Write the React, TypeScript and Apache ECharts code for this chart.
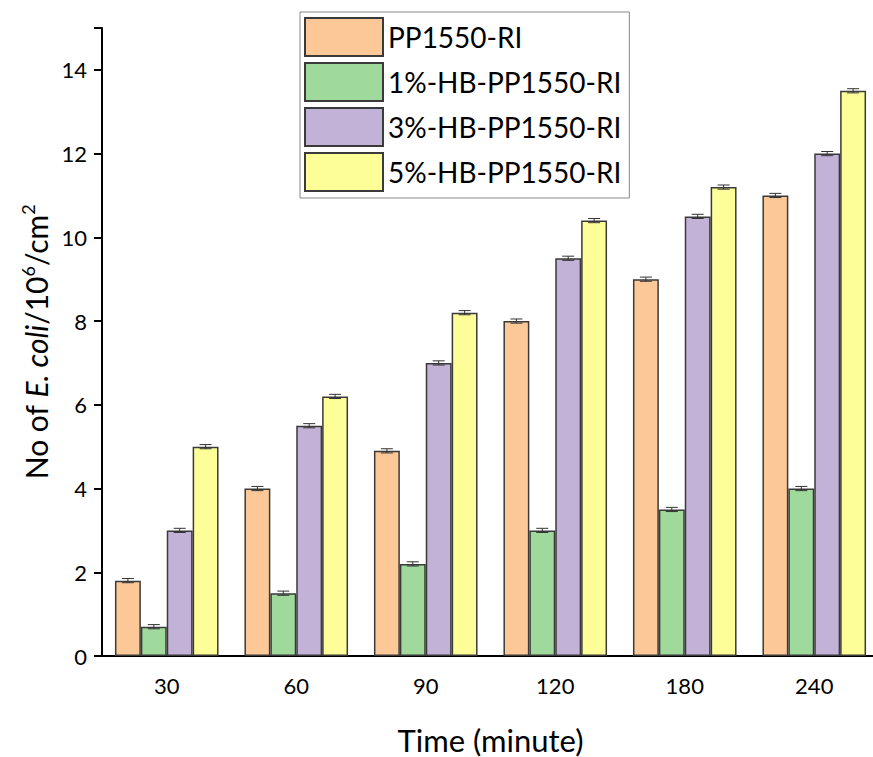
import React, { useEffect, useRef } from "react";
import * as echarts from "echarts";

const categories = ["30", "60", "90", "120", "180", "240"];
const seriesNames = ["PP1550-RI", "1%-HB-PP1550-RI", "3%-HB-PP1550-RI", "5%-HB-PP1550-RI"];
const pp1550 = [1.8, 4.0, 4.9, 8.0, 9.0, 11.0];
const hb1 = [0.7, 1.5, 2.2, 3.0, 3.5, 4.0];
const hb3 = [3.0, 5.5, 7.0, 9.5, 10.5, 12.0];
const hb5 = [5.0, 6.2, 8.2, 10.4, 11.2, 13.5];
const errPp1550 = [0.05, 0.05, 0.05, 0.05, 0.05, 0.05];
const errHb1 = [0.05, 0.05, 0.05, 0.05, 0.05, 0.05];
const errHb3 = [0.05, 0.05, 0.05, 0.05, 0.05, 0.05];
const errHb5 = [0.05, 0.05, 0.05, 0.05, 0.05, 0.05];
const yTicks = [0, 2, 4, 6, 8, 10, 12, 14];

const colors = ["#FDC897", "#9FD99C", "#C3B2D7", "#FEFE99"];
const BAR_FRAC = 0.2;

export default function App() {
  const ref = useRef<HTMLDivElement>(null);
  useEffect(() => {
    if (!ref.current) return;
    const chart = echarts.init(ref.current, undefined, { renderer: "svg" });
    const values = [pp1550, hb1, hb3, hb5];
    const errs = [errPp1550, errHb1, errHb3, errHb5];
    const font = "Lato, 'Open Sans', sans-serif";

    const barSeries = values.map((v, i) => ({
      name: seriesNames[i],
      type: "bar",
      data: v,
      barWidth: BAR_FRAC * 100 + "%",
      barGap: "0%",
      itemStyle: { color: colors[i], borderColor: "#3a3a3a", borderWidth: 1.5 },
      z: 2,
    }));

    const errSeries = values.map((v, si) => ({
      type: "custom",
      name: "err" + si,
      data: v.map((val, ci) => [ci, val, errs[si][ci]]),
      z: 5,
      silent: true,
      renderItem: (params: any, api: any) => {
        const ci = api.value(0);
        const val = api.value(1);
        const e = api.value(2);
        const band = api.size([1, 0])[0];
        const bw = band * BAR_FRAC;
        const offset = (si - 1.5) * bw;
        const top = api.coord([ci, val + e]);
        const bot = api.coord([ci, val - e]);
        const x = top[0] + offset;
        const cap = 6;
        const style = { stroke: "#333", lineWidth: 1, fill: null };
        return {
          type: "group",
          children: [
            { type: "line", shape: { x1: x, y1: top[1], x2: x, y2: bot[1] }, style },
            { type: "line", shape: { x1: x - cap, y1: top[1], x2: x + cap, y2: top[1] }, style },
            { type: "line", shape: { x1: x - cap, y1: bot[1], x2: x + cap, y2: bot[1] }, style },
          ],
        };
      },
    }));

    chart.setOption({
      animation: false,
      backgroundColor: "#fff",
      textStyle: { fontFamily: font },
      legend: {
        data: seriesNames,
        orient: "vertical",
        left: 300,
        top: 12,
        itemWidth: 78,
        itemHeight: 38,
        itemGap: 5,
        padding: [5, 8, 6, 4],
        borderColor: "#888",
        borderWidth: 1,
        textStyle: { fontSize: 28, color: "#000", fontFamily: font },
        icon: "rect",
      },
      grid: {
        left: 102,
        right: -6,
        top: 28,
        bottom: 101,
        containLabel: false,
        outerBoundsMode: "none",
      },
      xAxis: {
        type: "category",
        data: categories,
        name: "Time (minute)",
        nameLocation: "middle",
        nameGap: 68,
        nameTextStyle: { fontSize: 31, color: "#000", fontFamily: font },
        axisLine: { lineStyle: { color: "#000", width: 2 } },
        axisTick: { alignWithLabel: true, length: 8, lineStyle: { color: "#000", width: 2 } },
        axisLabel: { fontSize: 22, color: "#000", margin: 18, fontFamily: font },
      },
      yAxis: {
        type: "value",
        min: 0,
        max: 15,
        interval: 2,
        name: "{a|No of }{i|E. coli}{a|/10}{s|6}{a|/cm}{s|2}",
        nameLocation: "middle",
        nameGap: 46,
        nameTextStyle: {
          rich: {
            a: { fontSize: 30, color: "#000", fontFamily: font },
            i: { fontSize: 30, color: "#000", fontFamily: font, fontStyle: "italic" },
            s: { fontSize: 18, color: "#000", fontFamily: font, padding: [0, 0, 16, 0] },
          },
        },
        splitLine: { show: false },
        axisLine: { show: true, lineStyle: { color: "#000", width: 2 } },
        axisTick: { show: true, length: 8, lineStyle: { color: "#000", width: 2 } },
        axisLabel: {
          fontSize: 22,
          color: "#000",
          margin: 15,
          fontFamily: font,
          formatter: (v: number) => (yTicks.includes(v) ? String(v) : ""),
        },
      },
      series: [...barSeries, ...errSeries],
    });
    return () => chart.dispose();
  }, []);
  return <div ref={ref} style={{ width: 873, height: 757, position: "absolute", left: 0, top: 0 }} />;
}
